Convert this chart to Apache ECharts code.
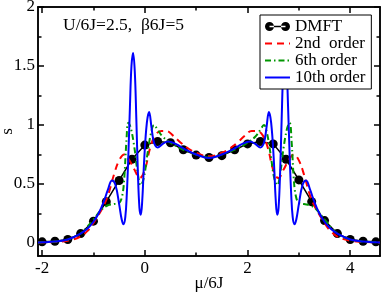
<!DOCTYPE html>
<html>
<head>
<meta charset="utf-8">
<script src="https://cdn.jsdelivr.net/npm/echarts@6/dist/echarts.min.js"></script>
<style>
html,body{margin:0;padding:0;background:#fff;}
#chart{width:382px;height:293px;}
</style>
</head>
<body>
<div id="chart"></div>
<script>
// ---- data ----
const xTickLabels = [-2, 0, 2, 4];
const xMinorTicks = [-1, 1, 3];
const yTickLabels = [0, 0.5, 1, 1.5, 2];
const yMinorTicks = [0.25, 0.75, 1.25, 1.75];

const seriesNames = ['DMFT', '2nd  order', '6th order', '10th order'];

const dmftX = [-2, -1.75, -1.5, -1.25, -1, -0.75, -0.5, -0.25, 0, 0.25, 0.5, 0.75, 1, 1.25,
  1.5, 1.75, 2, 2.25, 2.5, 2.75, 3, 3.25, 3.5, 3.75, 4, 4.25, 4.5];
const dmftY = [0.01, 0.015, 0.03, 0.08, 0.185, 0.35, 0.53, 0.71, 0.83, 0.86, 0.85, 0.79, 0.745, 0.725,
  0.74, 0.79, 0.84, 0.86, 0.84, 0.71, 0.535, 0.35, 0.19, 0.08, 0.03, 0.015, 0.01];

const order2X = [-2.08, -2, -1.75, -1.5, -1.25, -1.1, -1, -0.9, -0.82, -0.72, -0.6, -0.5, -0.4, -0.3, -0.2, -0.1, 0, 0.1, 0.2, 0.32, 0.42, 0.55, 0.7, 0.85, 1, 1.25,
  1.5, 1.65, 1.8, 1.95, 2.08, 2.18, 2.3, 2.4, 2.5, 2.6, 2.7, 2.8, 2.9, 3, 3.1, 3.22, 3.32, 3.4, 3.5, 3.6, 3.75, 4, 4.25, 4.5, 4.58];
const order2Y = [0.004, 0.005, 0.01, 0.02, 0.055, 0.11, 0.17, 0.24, 0.3, 0.4, 0.58, 0.7, 0.75, 0.7, 0.62, 0.55, 0.62, 0.8, 0.91, 0.95, 0.95, 0.91, 0.85, 0.8, 0.765, 0.735,
  0.765, 0.8, 0.85, 0.91, 0.95, 0.95, 0.91, 0.8, 0.62, 0.55, 0.62, 0.7, 0.75, 0.7, 0.58, 0.4, 0.3, 0.24, 0.17, 0.11, 0.055, 0.02, 0.01, 0.005, 0.004];

const order6X = [-2.08, -2, -1.75, -1.5, -1.25, -1, -0.85, -0.72, -0.6, -0.5, -0.44, -0.4, -0.36, -0.32, -0.27, -0.2, -0.14, -0.08, -0.02, 0.05, 0.12, 0.18, 0.25, 0.35, 0.5, 0.7, 1, 1.25,
  1.5, 1.8, 2, 2.15, 2.25, 2.32, 2.38, 2.45, 2.52, 2.58, 2.64, 2.7, 2.77, 2.82, 2.86, 2.9, 2.94, 3, 3.1, 3.22, 3.35, 3.5, 3.75, 4, 4.25, 4.5, 4.58];
const order6Y = [0.005, 0.006, 0.013, 0.03, 0.08, 0.2, 0.28, 0.32, 0.33, 0.34, 0.4, 0.55, 0.85, 1.02, 0.97, 0.8, 0.6, 0.49, 0.55, 0.75, 0.93, 1.0, 0.96, 0.9, 0.85, 0.8, 0.75, 0.725,
  0.75, 0.8, 0.85, 0.9, 0.96, 1.0, 0.93, 0.75, 0.55, 0.49, 0.6, 0.8, 0.97, 1.02, 0.85, 0.55, 0.4, 0.34, 0.33, 0.32, 0.28, 0.2, 0.08, 0.03, 0.013, 0.006, 0.005];

const order10X = [-2.08, -2, -1.75, -1.5, -1.25, -1.1, -1, -0.9, -0.8, -0.72, -0.64, -0.57, -0.5, -0.45, -0.415, -0.38, -0.35, -0.32, -0.29, -0.26, -0.228, -0.195, -0.165, -0.135, -0.105, -0.078, -0.05, -0.01, 0.04, 0.084, 0.13, 0.18, 0.25, 0.35, 0.45, 0.6, 0.8, 1, 1.25,
  1.5, 1.7, 1.9, 2.05, 2.15, 2.25, 2.32, 2.37, 2.416, 2.46, 2.51, 2.55, 2.578, 2.605, 2.635, 2.665, 2.695, 2.728, 2.76, 2.79, 2.82, 2.85, 2.88, 2.915, 2.95, 3, 3.07, 3.14, 3.22, 3.3, 3.4, 3.5, 3.6, 3.75, 4, 4.25, 4.5, 4.58];
const order10Y = [0.005, 0.006, 0.012, 0.03, 0.08, 0.13, 0.18, 0.25, 0.35, 0.45, 0.53, 0.49, 0.33, 0.2, 0.16, 0.22, 0.42, 0.75, 1.15, 1.5, 1.61, 1.45, 1.05, 0.6, 0.3, 0.24, 0.36, 0.72, 1.02, 1.11, 0.98, 0.85, 0.81, 0.84, 0.86, 0.84, 0.79, 0.75, 0.72,
  0.75, 0.79, 0.84, 0.86, 0.84, 0.81, 0.85, 0.98, 1.11, 1.02, 0.72, 0.36, 0.24, 0.3, 0.6, 1.05, 1.45, 1.61, 1.5, 1.15, 0.75, 0.42, 0.22, 0.16, 0.2, 0.33, 0.49, 0.53, 0.45, 0.35, 0.25, 0.18, 0.13, 0.08, 0.03, 0.012, 0.006, 0.005];

const xMin = -2.08, xMax = 4.58, yMin = -0.11, yMax = 2;
// ---- chart ----
const FONT = 'Liberation Serif';
const pairs = (xs, ys) => xs.map((x, i) => [x, ys[i]]);
const blk = '#000';

function xAx(pos, ticks, len, labels, name) {
  return {
    type: 'value', min: xMin, max: xMax, position: pos,
    axisLine: { show: true, onZero: false, lineStyle: { color: blk, width: 1.5 } },
    axisTick: { show: true, inside: true, length: len, customValues: ticks, lineStyle: { color: blk, width: 1.5 } },
    axisLabel: labels ? { show: true, customValues: labels, color: blk, fontFamily: FONT, fontSize: 17, margin: 4 } : { show: false },
    splitLine: { show: false },
    name: name || '', nameLocation: 'middle', nameGap: 19, nameMoveOverlap: false,
    nameTextStyle: { color: blk, fontFamily: FONT, fontSize: 17 }
  };
}
function yAx(pos, ticks, len, labels, name) {
  return {
    type: 'value', min: yMin, max: yMax, position: pos,
    axisLine: { show: true, onZero: false, lineStyle: { color: blk, width: 1.5 } },
    axisTick: { show: true, inside: true, length: len, customValues: ticks, lineStyle: { color: blk, width: 1.5 } },
    axisLabel: labels ? { show: true, customValues: labels, color: blk, fontFamily: FONT, fontSize: 17, margin: 3 } : { show: false },
    splitLine: { show: false },
    name: name || '', nameLocation: 'middle', nameGap: 22, nameRotate: 90, nameMoveOverlap: false,
    nameTextStyle: { color: blk, fontFamily: FONT, fontSize: 17 }
  };
}

const dmftIcon = 'path://M0,4.5A4.5,4.5 0 1,0 9,4.5A4.5,4.5 0 1,0 0,4.5Z M16,4.5A4.5,4.5 0 1,0 25,4.5A4.5,4.5 0 1,0 16,4.5Z M4.5,3.75L20.5,3.75L20.5,5.25L4.5,5.25Z';
const hideSym = { opacity: 0 };

const chart = echarts.init(document.getElementById('chart'), null, { renderer: 'canvas' });
chart.setOption({
  animation: false,
  backgroundColor: '#fff',
  grid: { left: 38, right: 2, top: 7, bottom: 37, containLabel: false, outerBoundsMode: 'none' },
  xAxis: [
    xAx('bottom', xTickLabels, 6, xTickLabels, 'μ/6J'),
    xAx('bottom', xMinorTicks, 3.5, null),
    xAx('top', xTickLabels, 6, null),
    xAx('top', xMinorTicks, 3.5, null)
  ],
  yAxis: [
    yAx('left', yTickLabels, 6, yTickLabels, 's'),
    yAx('left', yMinorTicks, 3.5, null),
    yAx('right', yTickLabels, 6, null),
    yAx('right', yMinorTicks, 3.5, null)
  ],
  legend: {
    orient: 'vertical', left: 260, top: 15,
    backgroundColor: '#fff', borderColor: blk, borderWidth: 1, borderRadius: 0,
    padding: [3, 6, 3, 4], itemWidth: 25, itemHeight: 9, itemGap: 0,
    textStyle: { fontFamily: FONT, fontSize: 17, color: blk, lineHeight: 15.5 },
    data: [
      { name: seriesNames[0], icon: dmftIcon },
      { name: seriesNames[1], itemStyle: hideSym },
      { name: seriesNames[2], itemStyle: hideSym },
      { name: seriesNames[3], itemStyle: hideSym }
    ]
  },
  graphic: [{
    type: 'text', left: 63, top: 16,
    style: { text: 'U/6J=2.5,  β6J=5', font: '17.5px "Liberation Serif"', fill: blk }
  }],
  series: [
    {
      name: seriesNames[0], type: 'line', data: pairs(dmftX, dmftY),
      symbol: 'circle', symbolSize: 9, showSymbol: true,
      itemStyle: { color: blk }, lineStyle: { color: blk, width: 1.5 }, z: 2
    },
    {
      name: seriesNames[1], type: 'line', data: pairs(order2X, order2Y), smooth: 0.4,
      symbol: 'none', itemStyle: { color: '#ff0000' },
      lineStyle: { color: '#ff0000', width: 2, type: [7, 5] }, z: 3
    },
    {
      name: seriesNames[2], type: 'line', data: pairs(order6X, order6Y), smooth: 0.4,
      symbol: 'none', itemStyle: { color: '#009600' },
      lineStyle: { color: '#009600', width: 2, type: [6, 3, 1.5, 3] }, z: 3
    },
    {
      name: seriesNames[3], type: 'line', data: pairs(order10X, order10Y), smooth: 0.4,
      symbol: 'none', itemStyle: { color: '#0000ff' },
      lineStyle: { color: '#0000ff', width: 2 }, z: 3
    }
  ]
});
</script>
</body>
</html>
